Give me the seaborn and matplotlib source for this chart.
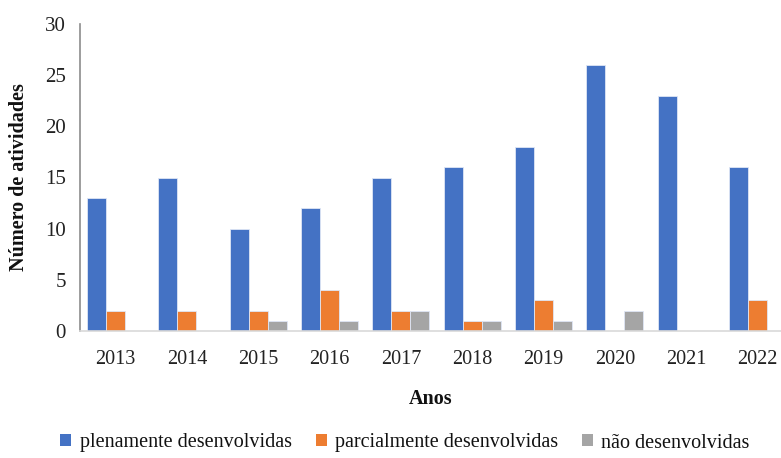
import matplotlib
matplotlib.use("Agg")
import matplotlib.pyplot as plt
from matplotlib.patches import Patch
import seaborn as sns
import pandas as pd

anos = ["2013", "2014", "2015", "2016", "2017", "2018", "2019", "2020", "2021", "2022"]
plenamente = [13, 15, 10, 12, 15, 16, 18, 26, 23, 16]
parcialmente = [2, 2, 2, 4, 2, 1, 3, 0, 0, 3]
nao = [0, 0, 1, 1, 2, 1, 1, 2, 0, 0]
series_names = ["plenamente desenvolvidas", "parcialmente desenvolvidas", "não desenvolvidas"]
colors = ["#4472C4", "#ED7D31", "#A5A5A5"]

rows = []
for name, vals in zip(series_names, [plenamente, parcialmente, nao]):
    for a, v in zip(anos, vals):
        rows.append({"Ano": a, "Valor": v, "Serie": name})
df = pd.DataFrame(rows)

sns.set_theme(style="white")
plt.rcParams["font.family"] = ["Liberation Serif", "DejaVu Serif"]

fig = plt.figure(figsize=(7.81, 4.58), dpi=100)
ax = fig.add_axes([80 / 781, 1 - 331 / 458, 701 / 781, (331 - 24) / 458])

sns.barplot(data=df, x="Ano", y="Valor", hue="Serie", palette=colors, saturation=1,
            width=0.8, ax=ax, linewidth=0.6, edgecolor="#dfe6f5", errorbar=None, legend=False)

for p in ax.patches:
    if p.get_height() == 0:
        p.set_visible(False)

ax.set_ylim(0, 30)
ax.set_yticks([0, 5, 10, 15, 20, 25, 30])
ax.set_xlim(-0.5, 9.33)
ax.tick_params(axis="y", length=0, pad=10, labelsize=15, colors="#222222")
ax.tick_params(axis="x", length=0, pad=14, labelsize=14.5, colors="#222222")

for s in ["top", "right"]:
    ax.spines[s].set_visible(False)
ax.spines["left"].set_color("#8c8c8c")
ax.spines["left"].set_linewidth(1.2)
ax.spines["bottom"].set_color("#d9d9d9")
ax.spines["bottom"].set_linewidth(1.2)

ax.set_ylabel("Número de atividades", fontsize=14.5, fontweight="bold", labelpad=12, color="#111111")
ax.set_xlabel("Anos", fontsize=14.5, fontweight="bold", labelpad=14, color="#111111")

handles = [Patch(facecolor=c, edgecolor="none") for c in colors]
fig.legend(handles, series_names, loc="center", bbox_to_anchor=(405 / 781, 1 - 443 / 458),
           ncol=3, frameon=False, fontsize=14.5, handlelength=0.55, handleheight=0.55,
           handletextpad=0.4, columnspacing=1.2, labelcolor="#111111")

fig.savefig("out.png", dpi=100)
